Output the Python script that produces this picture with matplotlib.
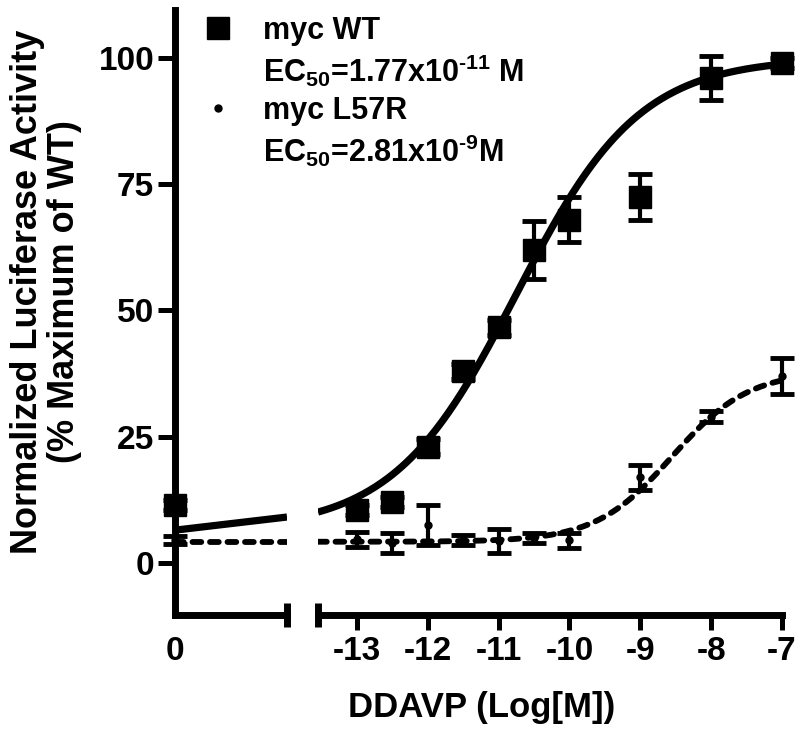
import numpy as np
import matplotlib
matplotlib.use("Agg")
import matplotlib.pyplot as plt
from matplotlib.lines import Line2D

plt.rcParams['font.family'] = ['Liberation Sans', 'DejaVu Sans']
plt.rcParams['font.weight'] = 'bold'
plt.rcParams['axes.unicode_minus'] = False
plt.rcParams['mathtext.fontset'] = 'custom'
plt.rcParams['mathtext.rm'] = 'Liberation Sans:bold'
plt.rcParams['mathtext.default'] = 'rm'

# log[DDAVP] (M); the no-drug "0" point sits on the left piece of the broken axis
log_dose = [-13, -12.5, -12, -11.5, -11, -10.5, -10, -9, -8, -7]
wt_mean = [10.5, 12, 23, 38, 46.7, 62, 68, 72.5, 96, 99]
wt_sem = [1, 1, 1.5, 1.5, 1.5, 5.8, 4.5, 4.5, 4.4, 1]
l57r_mean = [4.7, 4, 7.5, 4.5, 4.4, 5, 4.5, 17, 29, 37]
l57r_sem = [1.5, 2, 4, 1, 2.4, 1, 1.5, 2.5, 1, 3.5]
wt_zero, wt_zero_sem = 11.5, 1
l57r_zero, l57r_zero_sem = 4.5, 0.8

# sigmoid fit parameters
wt_fit = dict(bottom=6.5, top=100, logec50=-10.75, hill=0.5)
l57r_fit = dict(bottom=4.2, top=38, logec50=-8.55, hill=0.8)

# curve pieces drawn on the left (pre-break) segment
left_x = [0, 1.58]
wt_left = [6.5, 9.1]
l57r_left = [4.2, 4.2]

xticks = [-13, -12, -11, -10, -9, -8, -7]
yticks = [0, 25, 50, 75, 100]
labels = ["myc WT", "EC$_{50}$=1.77x10$^{\u201011}$ M",
          "myc L57R", "EC$_{50}$=2.81x10$^{\u20109}$M"]


def dose_response(x, bottom, top, logec50, hill):
    return bottom + (top - bottom) / (1 + 10 ** ((logec50 - x) * hill))


def no_clip(container):
    for a in container.get_children():
        a.set_clip_on(False)


W, H = 800, 732
fig = plt.figure(figsize=(8, 7.32), dpi=100)
bot = (H - 615) / H
hgt = 605 / H
ax1 = fig.add_axes([175 / W, bot, 112 / W, hgt])
ax2 = fig.add_axes([318 / W, bot, 464 / W, hgt], sharey=ax1)

ax1.set_xlim(left_x[0], left_x[-1])
ax2.set_xlim(-13.55, -7)
ax1.set_ylim(-10.3, 109.5)

# curves
ax1.plot(left_x, wt_left, color='k', lw=5.2, solid_capstyle='butt')
ax1.plot(left_x, l57r_left, color='k', lw=4.2, dashes=(1.5, 1.5), dash_capstyle='round')
xs = np.linspace(-13.55, -7, 300)
ax2.plot(xs, dose_response(xs, **wt_fit), color='k', lw=5.2, solid_capstyle='butt')
ax2.plot(xs, dose_response(xs, **l57r_fit), color='k', lw=4.2, dashes=(1.5, 1.5),
         dash_capstyle='round')

# points
eb_style = dict(color='k', capsize=8.5, capthick=3.5, elinewidth=3, ls='none')
no_clip(ax2.errorbar(log_dose, wt_mean, yerr=wt_sem, fmt='s', ms=16, **eb_style))
no_clip(ax2.errorbar(log_dose, l57r_mean, yerr=l57r_sem, fmt='o', ms=5, **eb_style))
no_clip(ax1.errorbar([0], [wt_zero], yerr=[wt_zero_sem], fmt='s', ms=16, **eb_style))
no_clip(ax1.errorbar([0], [l57r_zero], yerr=[l57r_zero_sem], fmt='o', ms=5, **eb_style))

# axes styling
for ax in (ax1, ax2):
    for s in ax.spines.values():
        s.set_linewidth(5)
        s.set_capstyle('projecting')
    ax.spines['top'].set_visible(False)
    ax.spines['right'].set_visible(False)
    ax.tick_params(axis='x', which='major', length=11, width=3.6, pad=4, labelsize=24)
    ax.tick_params(axis='x', which='minor', direction='inout', length=17, width=5)
ax2.spines['left'].set_visible(False)
ax2.tick_params(axis='y', left=False, labelleft=False)

ax1.set_yticks(yticks)
ax1.set_yticklabels([str(v) for v in yticks])
ax1.tick_params(axis='y', length=12, width=3.6, pad=3, labelsize=24)
ax1.set_xticks([0])
ax1.set_xticklabels(['0'])
ax1.tick_params(axis='x', which='major', length=0, pad=15)
ax1.set_xticks([left_x[-1]], minor=True)

ax2.set_xticks(xticks)
ax2.set_xticklabels([str(v) for v in xticks])
ax2.set_xticks([-13.55], minor=True)

# legend (one row per text line)
handles = [
    Line2D([], [], marker='s', ms=16, color='k', ls='none'),
    Line2D([], [], ls='none'),
    Line2D([], [], marker='o', ms=5, color='k', ls='none'),
    Line2D([], [], ls='none'),
]
fig.legend(handles, labels, loc='upper left', bbox_to_anchor=(203 / W, 1 - 16 / H),
           frameon=False, fontsize=22, handlelength=1.0, handletextpad=0.95,
           labelspacing=0.22, borderpad=0, borderaxespad=0)

fig.text(46 / W, 1 - 292 / H, "Normalized Luciferase Activity\n(% Maximum of WT)",
         rotation=90, ha='center', va='center', fontsize=26, linespacing=1.05)
fig.text(482 / W, 1 - 707 / H, "DDAVP (Log[M])", ha='center', va='center', fontsize=25)

fig.savefig("out.png", dpi=100)
